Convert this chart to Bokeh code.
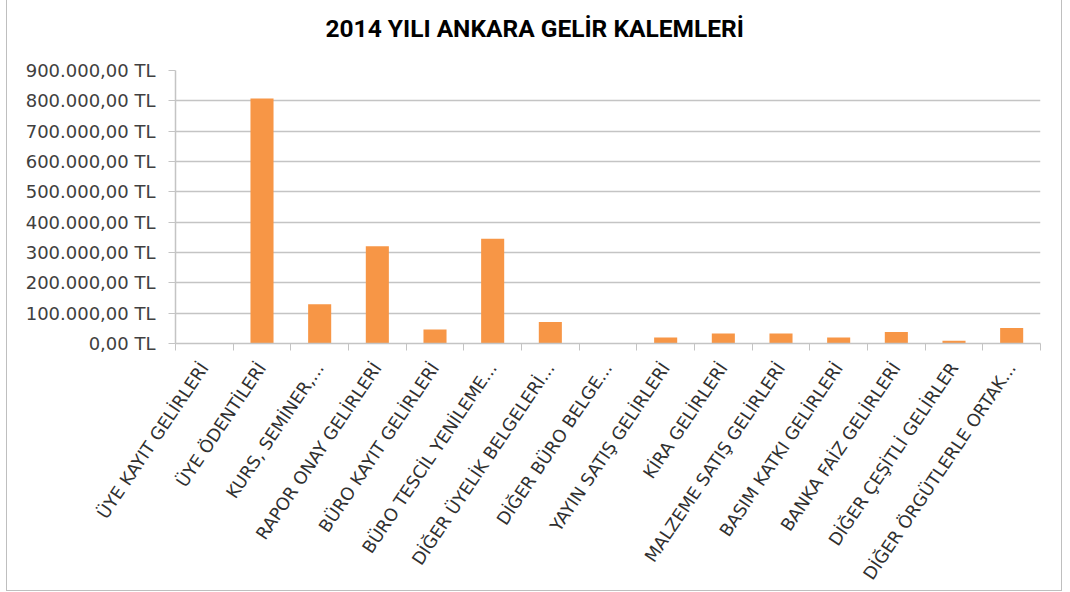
from bokeh.plotting import figure
from bokeh.models import FixedTicker, Range1d, ColumnDataSource
from bokeh.embed import file_html
from bokeh.resources import INLINE

# ---- data ----
categories = [
    "ÜYE KAYIT GELİRLERİ",
    "ÜYE ÖDENTİLERİ",
    "KURS, SEMİNER,...",
    "RAPOR ONAY GELİRLERİ",
    "BÜRO KAYIT GELİRLERİ",
    "BÜRO TESCİL YENİLEME...",
    "DİĞER ÜYELİK BELGELERİ...",
    "DİĞER BÜRO BELGE...",
    "YAYIN SATIŞ GELİRLERİ",
    "KİRA GELİRLERİ",
    "MALZEME SATIŞ GELİRLERİ",
    "BASIM KATKI GELİRLERİ",
    "BANKA FAİZ GELİRLERİ",
    "DİĞER ÇEŞİTLİ GELİRLER",
    "DİĞER ÖRGÜTLERLE ORTAK...",
]
values = [0, 808000, 129000, 321000, 46000, 345000, 71000, 0,
          20000, 33000, 33000, 20000, 38000, 9000, 51000]
y_ticks = [0, 100000, 200000, 300000, 400000, 500000, 600000, 700000, 800000, 900000]
y_tick_labels = ["0,00 TL", "100.000,00 TL", "200.000,00 TL", "300.000,00 TL",
                 "400.000,00 TL", "500.000,00 TL", "600.000,00 TL", "700.000,00 TL",
                 "800.000,00 TL", "900.000,00 TL"]
title_text = "2014 YILI ANKARA GELİR KALEMLERİ"

positions = list(range(1, len(categories) + 1))
source = ColumnDataSource(dict(x=positions, v=values))

GRID = "#C4C4C4"
TEXT = "#404040"

p = figure(width=1056, height=609,
           x_range=Range1d(0.5, len(categories) + 0.5),
           y_range=Range1d(0, 900000),
           output_backend="svg", toolbar_location=None,
           min_border_left=168, min_border_right=23,
           min_border_top=66, min_border_bottom=249,
           title=title_text)

p.vbar(x="x", top="v", width=0.4, source=source,
       fill_color="#F79646", line_color=None)

# title
p.title.align = "left"
p.title.offset = 150
p.title.standoff = 56
p.title.text_font = "Roboto"
p.title.text_font_size = "24.5px"
p.title.text_font_style = "bold"
p.title.text_color = "#000000"

# x axis
xa = p.xaxis[0]
xa.ticker = FixedTicker(ticks=positions,
                        minor_ticks=[i + 0.5 for i in range(0, len(categories) + 1)])
xa.major_label_overrides = {pos: lab for pos, lab in zip(positions, categories)}
xa.major_label_orientation = 0.977
xa.major_tick_out = 0
xa.major_tick_in = 0
xa.minor_tick_out = 7
xa.minor_tick_in = 0
xa.minor_tick_line_color = GRID
xa.axis_line_color = GRID
xa.axis_line_width = 1.5
xa.major_label_standoff = 14
xa.major_label_text_font = "DejaVu Sans"
xa.major_label_text_font_size = "17.5px"
xa.major_label_text_color = "#303030"

# y axis
ya = p.yaxis[0]
ya.ticker = FixedTicker(ticks=y_ticks)
ya.major_label_overrides = {t: lab for t, lab in zip(y_ticks, y_tick_labels)}
ya.major_tick_out = 7
ya.major_tick_in = 0
ya.minor_tick_out = 0
ya.minor_tick_in = 0
ya.major_tick_line_color = GRID
ya.axis_line_color = GRID
ya.axis_line_width = 1.5
ya.major_label_standoff = 13
ya.major_label_text_font = "DejaVu Sans"
ya.major_label_text_font_size = "18px"
ya.major_label_text_color = TEXT

p.xgrid.grid_line_color = None
p.ygrid.ticker = FixedTicker(ticks=y_ticks)
p.ygrid.grid_line_color = GRID
p.ygrid.grid_line_width = 1.5
p.outline_line_color = None
p.styles = {"border": "1px solid #BFBFBF", "margin-left": "6px", "margin-top": "-18px"}

open("out.html", "w").write(file_html(p, INLINE))
